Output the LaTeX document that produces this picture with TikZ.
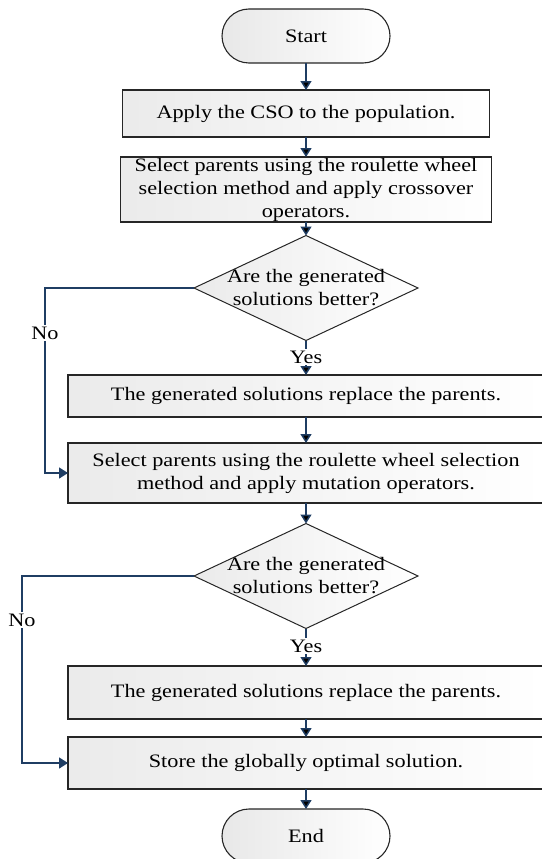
\documentclass[tikz,border=0pt]{standalone}
\usepackage{fontspec}
\setmainfont[FakeStretch=1.17]{Liberation Serif}
\usetikzlibrary{positioning,shapes.geometric,shapes.misc,arrows.meta}
\definecolor{flowblue}{HTML}{1F3D63}

\begin{document}
\begin{tikzpicture}
[every node/.style={inner sep=0pt,outer sep=0pt,font=\fontsize{19}{23}\selectfont,align=center},
 term/.style={rounded rectangle,draw=black!85,line width=1.1pt,left color=black!9,right color=white,minimum width=168pt,minimum height=54pt},
 proc/.style={rectangle,draw=black!85,line width=1.3pt,left color=black!8,right color=white,minimum height=#1},
 dec/.style={diamond,draw=black!85,line width=1pt,left color=black!8,right color=white,minimum width=224pt,minimum height=105pt},
 lbl/.style={fill=white,inner sep=2pt},
 link/.style={draw=flowblue,line width=1.5pt},
 flow/.style={link,-{Triangle[length=9pt,width=11pt]}}]
\useasboundingbox (0,0) rectangle (541pt,-859pt);
\node[term] (start) at (306pt,-36pt)                           {Start};
\node[proc=47pt,minimum width=367pt] (b1) [on grid,below=77.5pt of start] {Apply the CSO to the population.};
\node[proc=65pt,minimum width=371pt] (b2) [on grid,below=76pt of b1]  {Select parents using the roulette wheel\\selection method and apply crossover\\operators.};
\node[dec] (d1) [on grid,below=98.5pt of b2,label={[align=center]center:Are the generated\\solutions better?}] {};
\node[lbl] (yes1) [on grid,below=69pt of d1]                   {Yes};
\node[proc=42pt,minimum width=476pt] (b3) [on grid,below=108pt of d1] {The generated solutions replace the parents.};
\node[proc=60pt,minimum width=476pt] (b4) [on grid,below=77pt of b3]  {Select parents using the roulette wheel selection\\method and apply mutation operators.};
\node[dec] (d2) [on grid,below=103pt of b4,label={[align=center]center:Are the generated\\solutions better?}] {};
\node[lbl] (yes2) [on grid,below=70pt of d2]                   {Yes};
\node[proc=53pt,minimum width=476pt] (b5) [on grid,below=116.5pt of d2] {The generated solutions replace the parents.};
\node[proc=52pt,minimum width=476pt] (b6) [on grid,below=70.5pt of b5] {Store the globally optimal solution.};
\node[term] (end) [on grid,below=73pt of b6]                   {End};
\node[lbl] (no1) at (45pt,-333pt)                              {No};
\node[lbl] (no2) at (22pt,-620pt)                              {No};
\path[flow] (start) edge (b1);
\path[flow] (b1)    edge (b2);
\path[flow] (b2)    edge (d1);
\path[link] (d1)    edge (yes1);
\path[flow] (yes1)  edge (b3);
\path[flow] (b3)    edge (b4);
\path[flow] (b4)    edge (d2);
\path[link] (d2)    edge (yes2);
\path[flow] (yes2)  edge (b5);
\path[flow] (b5)    edge (b6);
\path[flow] (b6)    edge (end);
\draw[link] (d1.west) -| (no1.north);
\draw[flow] (no1.south) |- (b4.west);
\draw[link] (d2.west) -| (no2.north);
\draw[flow] (no2.south) |- (b6.west);
\end{tikzpicture}
\end{document}
